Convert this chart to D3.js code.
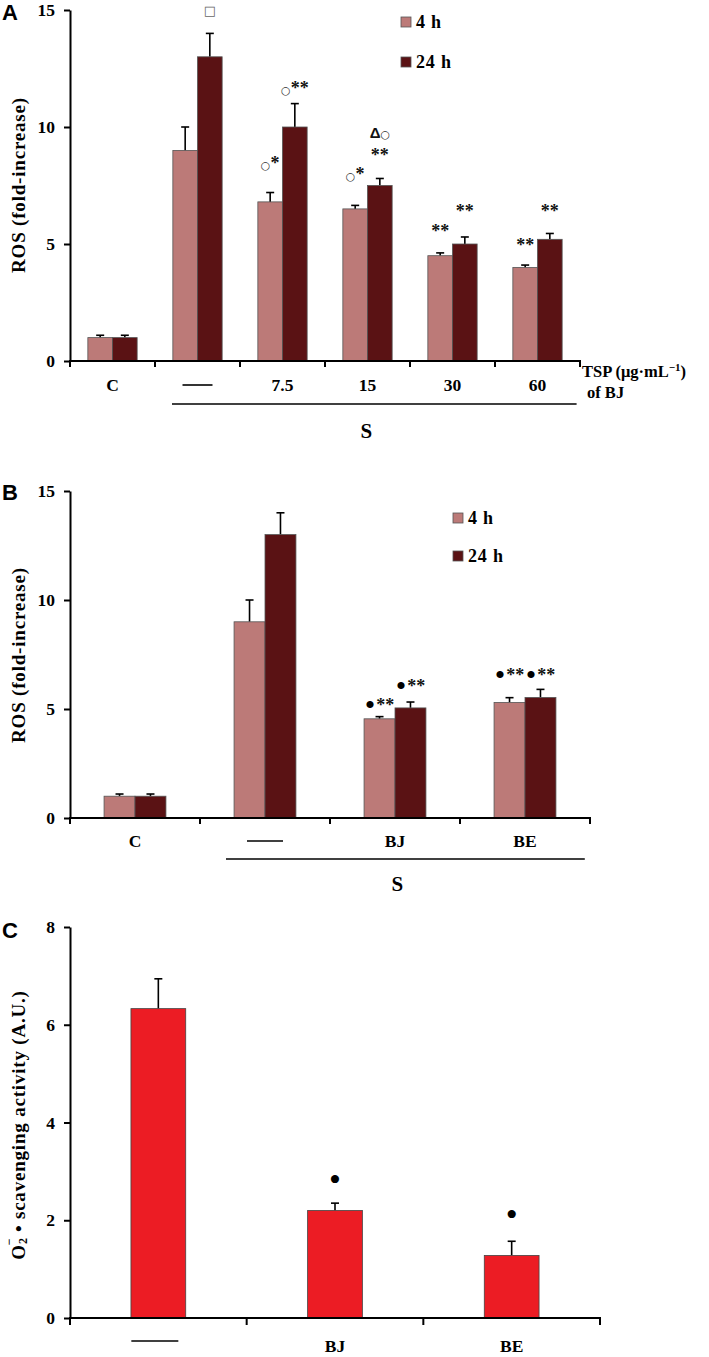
<!DOCTYPE html>
<html><head><meta charset="utf-8">
<script src="https://cdn.jsdelivr.net/npm/d3@7"></script>
<style>body{margin:0;background:#fff} svg{display:block}</style>
</head><body><svg id="c" width="709" height="1357"></svg>
<script>
// ---------- DATA ----------
const seriesAB = ["4 h", "24 h"];

const catsA = ["C", "—", "7.5", "15", "30", "60"];
const a4h = [1.0, 9.0, 6.8, 6.5, 4.5, 4.0];
const a4hErr = [0.1, 1.0, 0.4, 0.15, 0.12, 0.1];
const a24h = [1.0, 13.0, 10.0, 7.5, 5.0, 5.2];
const a24hErr = [0.1, 1.0, 1.0, 0.3, 0.3, 0.25];
const ticksA = [0, 5, 10, 15];
const annotA = [
  {cat: "—", s: "24 h", y: 14.8, t: "□"},
  {cat: "7.5", s: "4 h", y: 8.2, t: "○*"},
  {cat: "7.5", s: "24 h", y: 11.4, t: "○**"},
  {cat: "15", s: "4 h", y: 7.75, t: "○*"},
  {cat: "15", s: "24 h", y: 8.55, t: "**"},
  {cat: "15", s: "24 h", y: 9.55, t: "Δ○"},
  {cat: "30", s: "4 h", y: 5.28, t: "**"},
  {cat: "30", s: "24 h", y: 6.15, t: "**"},
  {cat: "60", s: "4 h", y: 4.7, t: "**"},
  {cat: "60", s: "24 h", y: 6.15, t: "**"}
];

const catsB = ["C", "—", "BJ", "BE"];
const b4h = [1.0, 9.0, 4.55, 5.3];
const b4hErr = [0.1, 1.0, 0.1, 0.22];
const b24h = [1.0, 13.0, 5.05, 5.53];
const b24hErr = [0.1, 1.0, 0.27, 0.37];
const ticksB = [0, 5, 10, 15];
const annotB = [
  {cat: "BJ", s: "4 h", y: 4.93, t: "•**"},
  {cat: "BJ", s: "24 h", y: 5.78, t: "•**"},
  {cat: "BE", s: "4 h", y: 6.28, t: "•**"},
  {cat: "BE", s: "24 h", y: 6.28, t: "•**"}
];

const catsC = ["—", "BJ", "BE"];
const cVals = [6.33, 2.2, 1.28];
const cErr = [0.61, 0.15, 0.29];
const ticksC = [0, 2, 4, 6, 8];
const annotC = [
  {cat: "BJ", y: 2.6, t: "•"},
  {cat: "BE", y: 1.89, t: "•"}
];

const colors = {"4 h": "#bc7a78", "24 h": "#5a1214"};
const red = "#ec1c24";
const SERIF = "'Liberation Serif','Times New Roman',serif";
const SANS = "'Liberation Sans',Arial,sans-serif";

const svg = d3.select("#c");

function styleChar(ts, ch) {
  if (ch === "○") ts.attr("font-family", "DejaVu Sans").attr("font-size", 11).attr("font-weight", "normal").attr("fill", "#333");
  else if (ch === "*") ts.attr("font-family", SERIF).attr("font-size", 18).attr("font-weight", "bold").attr("fill", "#111");
  else if (ch === "•") ts.attr("font-family", SERIF).attr("font-size", 30).attr("fill", "#000");
  else if (ch === "Δ") ts.attr("font-family", SANS).attr("font-size", 15).attr("font-weight", "bold").attr("fill", "#111");
  else if (ch === "□") ts.attr("font-family", "DejaVu Sans").attr("font-size", 13).attr("fill", "#666");
  else ts.attr("font-family", SERIF);
}
function drawAnnot(g, list, xf, y, opts = {}) {
  list.forEach(a => {
    const t = g.append("text").attr("x", xf(a)).attr("y", y(a.y)).attr("text-anchor", "middle");
    let shifted = false;
    for (const ch of a.t) {
      const ts = t.append("tspan").text(ch);
      styleChar(ts, ch);
      if (opts.size && ch === "•") ts.attr("font-size", opts.size);
      if (ch === "•" && a.t.length > 1) { ts.attr("dy", 4).attr("dx", 0); shifted = true; }
      else if (shifted) { ts.attr("dy", -4).attr("dx", 1); shifted = false; }
    }
  });
}

function yAxis(g, y, ticks, x0) {
  const ax = g.append("g").attr("transform", `translate(${x0},0)`)
    .call(d3.axisLeft(y).tickValues(ticks).tickSize(6).tickSizeOuter(0).tickPadding(9).tickFormat(d3.format("d")));
  ax.select(".domain").attr("stroke", "#000").attr("stroke-width", 2);
  ax.selectAll(".tick line").attr("stroke", "#000").attr("stroke-width", 2);
  ax.selectAll(".tick text").attr("font-family", SERIF).attr("font-size", 17.5).attr("font-weight", "bold").attr("fill", "#000");
}
function xAxisLine(g, x, cats, y0) {
  const [r0, r1] = x.range();
  g.append("line").attr("x1", r0 - 1).attr("x2", r1 + 1).attr("y1", y0).attr("y2", y0).attr("stroke", "#000").attr("stroke-width", 2);
  const bounds = cats.map(c => x(c)).concat([r1]);
  g.selectAll(null).data(bounds).enter().append("line")
    .attr("x1", d => d).attr("x2", d => d).attr("y1", y0).attr("y2", y0 + 6)
    .attr("stroke", "#000").attr("stroke-width", 2);
}
function xLabels(g, x, cats, yb, dashW) {
  cats.forEach(c => {
    const cx = x(c) + x.bandwidth() / 2;
    if (c === "—") {
      g.append("line").attr("x1", cx - dashW / 2).attr("x2", cx + dashW / 2).attr("y1", yb - 6).attr("y2", yb - 6).attr("stroke", "#000").attr("stroke-width", 1.6);
    } else {
      g.append("text").attr("x", cx).attr("y", yb).attr("text-anchor", "middle")
        .attr("font-family", SERIF).attr("font-size", 17.5).attr("font-weight", "bold").text(c);
    }
  });
}
function panelLetter(t, x, y) {
  svg.append("text").attr("x", x).attr("y", y).attr("font-family", SANS).attr("font-size", 22).attr("font-weight", "bold").text(t);
}
function yTitle(text, cx, cy) {
  svg.append("text").attr("transform", `translate(${cx},${cy}) rotate(-90)`).attr("text-anchor", "middle")
    .attr("dominant-baseline", "central").attr("font-family", SERIF).attr("font-size", 19).attr("font-weight", "bold")
    .attr("letter-spacing", 0.8).text(text);
}
function legend(g, x0, y0s) {
  seriesAB.forEach((s, i) => {
    g.append("rect").attr("x", x0).attr("y", y0s[i]).attr("width", 10).attr("height", 10)
      .attr("fill", colors[s]).attr("stroke", "#555").attr("stroke-width", 0.8);
    g.append("text").attr("x", x0 + 15).attr("y", y0s[i] + 11).attr("font-family", SERIF).attr("font-size", 18)
      .attr("font-weight", "bold").attr("letter-spacing", 0.8).text(s);
  });
}

function groupedPanel(cfg) {
  const g = svg.append("g");
  const x = d3.scaleBand().domain(cfg.cats).range(cfg.xr).paddingInner(0).paddingOuter(0);
  const y = d3.scaleLinear().domain([0, cfg.ymax]).range(cfg.yr);
  const bw = x.bandwidth();
  const xi = d3.scaleBand().domain(seriesAB).range([bw * cfg.inset, bw * (1 - cfg.inset)]);
  const vals = {"4 h": cfg.v4, "24 h": cfg.v24};
  const errs = {"4 h": cfg.e4, "24 h": cfg.e24};
  const rows = [];
  cfg.cats.forEach((c, i) => seriesAB.forEach(s => rows.push({c, s, v: vals[s][i], e: errs[s][i]})));
  rows.forEach(d => {
    const cx = x(d.c) + xi(d.s) + xi.bandwidth() / 2;
    g.append("line").attr("x1", cx).attr("x2", cx).attr("y1", y(d.v)).attr("y2", y(d.v + d.e)).attr("stroke", "#000").attr("stroke-width", 1.6);
    g.append("line").attr("x1", cx - 4).attr("x2", cx + 4).attr("y1", y(d.v + d.e)).attr("y2", y(d.v + d.e)).attr("stroke", "#000").attr("stroke-width", 1.6);
  });
  g.selectAll(null).data(rows).enter().append("rect")
    .attr("x", d => x(d.c) + xi(d.s)).attr("width", xi.bandwidth())
    .attr("y", d => y(d.v)).attr("height", d => y(0) - y(d.v))
    .attr("fill", d => colors[d.s]).attr("stroke", "#555").attr("stroke-width", 0.8);
  yAxis(g, y, cfg.ticks, cfg.xr[0]);
  xAxisLine(g, x, cfg.cats, y(0));
  xLabels(g, x, cfg.cats, cfg.labelY, cfg.dashW);
  drawAnnot(g, cfg.annot, a => x(a.cat) + xi(a.s) + xi.bandwidth() / 2, y);
  const lx0 = x(cfg.cats[1]) + bw * 0.2, lx1 = cfg.xr[1] - bw * 0.04;
  g.append("line").attr("x1", lx0).attr("x2", lx1).attr("y1", cfg.sLineY).attr("y2", cfg.sLineY).attr("stroke", "#000").attr("stroke-width", 1.6);
  g.append("text").attr("x", (lx0 + lx1) / 2 - 8).attr("y", cfg.sY).attr("text-anchor", "middle")
    .attr("font-family", SERIF).attr("font-size", 21).attr("font-weight", "bold").text("S");
  return {g, x, y};
}

// Panel A
const A = groupedPanel({cats: catsA, v4: a4h, e4: a4hErr, v24: a24h, e24: a24hErr, ymax: 15, yr: [361, 10],
  xr: [70, 580], inset: 0.21, ticks: ticksA, annot: annotA, labelY: 391, dashW: 30, sLineY: 404, sY: 438});
legend(A.g, 401, [17, 57]);
const tsp = A.g.append("text").attr("x", 582).attr("y", 377).attr("font-family", SERIF).attr("font-size", 16.5).attr("font-weight", "bold");
tsp.append("tspan").text("TSP (μg·mL");
tsp.append("tspan").attr("dy", -6).attr("font-size", 11).text("−1");
tsp.append("tspan").attr("dy", 6).text(")");
A.g.append("text").attr("x", 587).attr("y", 398).attr("font-family", SERIF).attr("font-size", 16.5).attr("font-weight", "bold").text("of BJ");
panelLetter("A", 2, 20);
yTitle("ROS (fold-increase)", 18, 185);

// Panel B
const B = groupedPanel({cats: catsB, v4: b4h, e4: b4hErr, v24: b24h, e24: b24hErr, ymax: 15, yr: [818, 491],
  xr: [70, 590], inset: 0.262, ticks: ticksB, annot: annotB, labelY: 847, dashW: 36, sLineY: 859, sY: 891});
legend(B.g, 453, [513, 551]);
panelLetter("B", 2, 500);
yTitle("ROS (fold-increase)", 18, 655);

// Panel C
(function () {
  const g = svg.append("g");
  const x = d3.scaleBand().domain(catsC).range([70, 600]).paddingInner(0.69).paddingOuter(0.345);
  const y = d3.scaleLinear().domain([0, 8]).range([1318, 927]);
  const rows = catsC.map((c, i) => ({c, v: cVals[i], e: cErr[i]}));
  rows.forEach(d => {
    const cx = x(d.c) + x.bandwidth() / 2;
    g.append("line").attr("x1", cx).attr("x2", cx).attr("y1", y(d.v)).attr("y2", y(d.v + d.e)).attr("stroke", "#000").attr("stroke-width", 1.6);
    g.append("line").attr("x1", cx - 4).attr("x2", cx + 4).attr("y1", y(d.v + d.e)).attr("y2", y(d.v + d.e)).attr("stroke", "#000").attr("stroke-width", 1.6);
  });
  g.selectAll(null).data(rows).enter().append("rect")
    .attr("x", d => x(d.c)).attr("width", x.bandwidth())
    .attr("y", d => y(d.v)).attr("height", d => y(0) - y(d.v))
    .attr("fill", red).attr("stroke", "#444").attr("stroke-width", 0.8);
  yAxis(g, y, ticksC, 70);
  const step = x.step();
  const bounds = [70, 70 + step, 70 + 2 * step, 600];
  g.append("line").attr("x1", 69).attr("x2", 601).attr("y1", y(0)).attr("y2", y(0)).attr("stroke", "#000").attr("stroke-width", 2);
  g.selectAll(null).data(bounds).enter().append("line").attr("x1", d => d).attr("x2", d => d)
    .attr("y1", y(0)).attr("y2", y(0) + 7).attr("stroke", "#000").attr("stroke-width", 2);
  catsC.forEach(c => {
    const cx = x(c) + x.bandwidth() / 2;
    if (c === "—") g.append("line").attr("x1", cx - 27).attr("x2", cx + 20).attr("y1", 1341).attr("y2", 1341).attr("stroke", "#000").attr("stroke-width", 1.6);
    else g.append("text").attr("x", cx).attr("y", 1352).attr("text-anchor", "middle").attr("font-family", SERIF)
      .attr("font-size", 17.5).attr("font-weight", "bold").text(c);
  });
  drawAnnot(g, annotC, a => x(a.cat) + x.bandwidth() / 2, y, {size: 34});
  panelLetter("C", 2, 938);
  const t = svg.append("text").attr("transform", "translate(18,1125) rotate(-90)").attr("text-anchor", "middle")
    .attr("dominant-baseline", "central").attr("font-family", SERIF).attr("font-size", 19).attr("font-weight", "bold").attr("letter-spacing", 0.8);
  t.append("tspan").text("O");
  t.append("tspan").attr("dy", 5).attr("font-size", 12).text("2");
  t.append("tspan").attr("dx", -8).attr("dy", -14).attr("font-size", 12).text("−");
  t.append("tspan").attr("dy", 9).text(" • scavenging activity (A.U.)");
})();
</script>
</body></html>
